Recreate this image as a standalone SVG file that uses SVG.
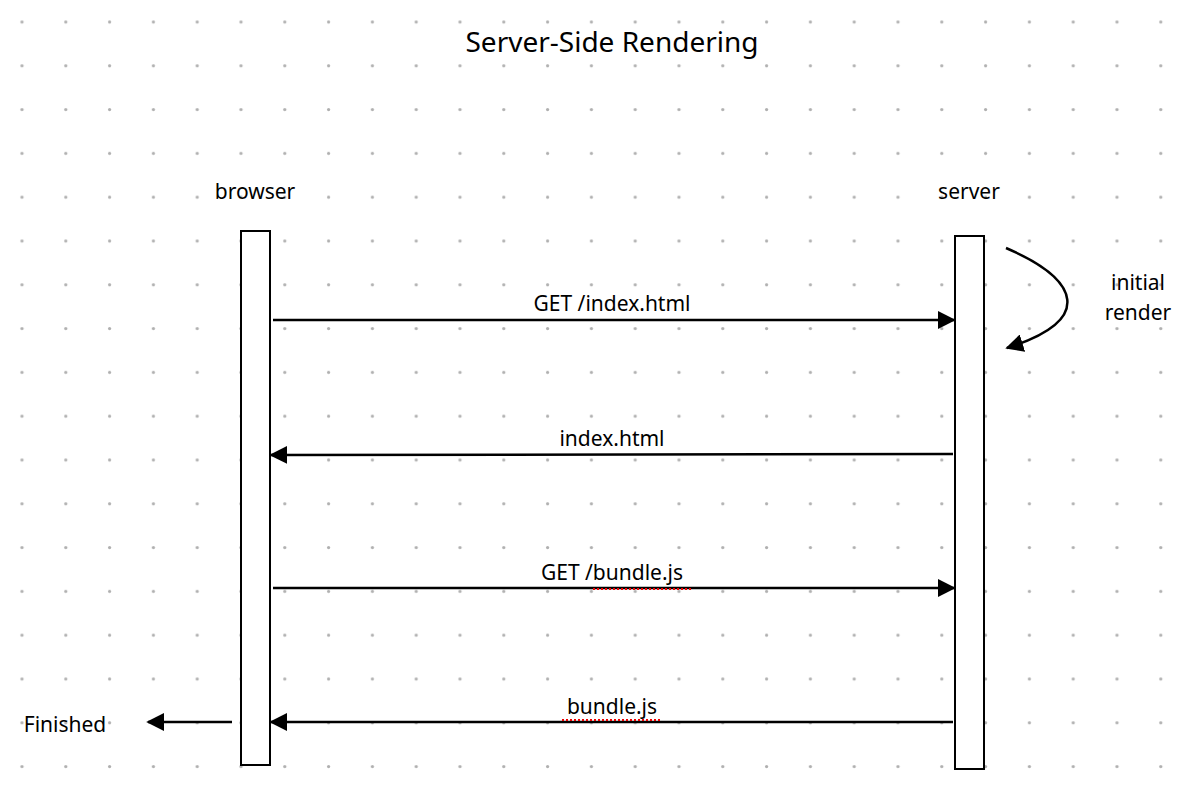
<svg xmlns="http://www.w3.org/2000/svg" width="1200" height="806" viewBox="0 0 1200 806">
<defs>
<pattern id="dots" x="0" y="0" width="43.8" height="43.8" patternUnits="userSpaceOnUse" patternTransform="translate(0.5,0.5)">
<circle cx="21.5" cy="21.5" r="1.6" fill="#b0b0b0"/>
</pattern>
<marker id="ah" viewBox="0 0 10 10" refX="9" refY="5" markerWidth="18" markerHeight="18" markerUnits="userSpaceOnUse" orient="auto">
<path d="M0,0 L10,5 L0,10 Z" fill="#000"/>
</marker>
<style>
text{font-family:"Noto Sans","Liberation Sans",Arial,sans-serif;fill:#000}
.lbl{font-size:21px}
.life{fill:#fff;stroke:#000;stroke-width:2}
.msg{stroke:#000;stroke-width:2.5;fill:none;marker-end:url(#ah)}
.sp{stroke:#e00;stroke-width:2;stroke-dasharray:2 2}
</style>
</defs>
<rect width="1200" height="806" fill="#fff"/>
<rect width="1200" height="806" fill="url(#dots)"/>
<text x="612" y="52" font-size="28" text-anchor="middle">Server-Side Rendering</text>
<g id="browser">
<text class="lbl" x="255" y="199" text-anchor="middle">browser</text>
<rect class="life" x="241" y="231" width="29" height="534"/>
</g>
<g id="server">
<text class="lbl" x="969" y="199" text-anchor="middle">server</text>
<rect class="life" x="955" y="236" width="29" height="533"/>
</g>
<g id="finished"><text class="lbl" x="65" y="732" text-anchor="middle">Finished</text></g>
<g id="connectors">
<path class="msg" d="M273,320 L954,320"/>
<text class="lbl" x="612" y="311" text-anchor="middle">GET /index.html</text>
<path class="msg" d="M953,454 L271,455"/>
<text class="lbl" x="612" y="446" text-anchor="middle">index.html</text>
<path class="msg" d="M273,588 L954,588"/>
<text class="lbl" x="612" y="580" text-anchor="middle">GET /bundle.js</text>
<line class="sp" x1="593" y1="589" x2="693" y2="589"/>
<path class="msg" d="M953,722 L271,722"/>
<text class="lbl" x="612" y="714" text-anchor="middle">bundle.js</text>
<line class="sp" x1="562" y1="720" x2="662" y2="720"/>
<path class="msg" d="M232,722 L148,722"/>
<path class="msg" d="M1006,248 C1080,280 1095,320 1007,348"/>
<text class="lbl" x="1138" y="290" text-anchor="middle">initial</text>
<text class="lbl" x="1138" y="320" text-anchor="middle">render</text>
</g>
</svg>
